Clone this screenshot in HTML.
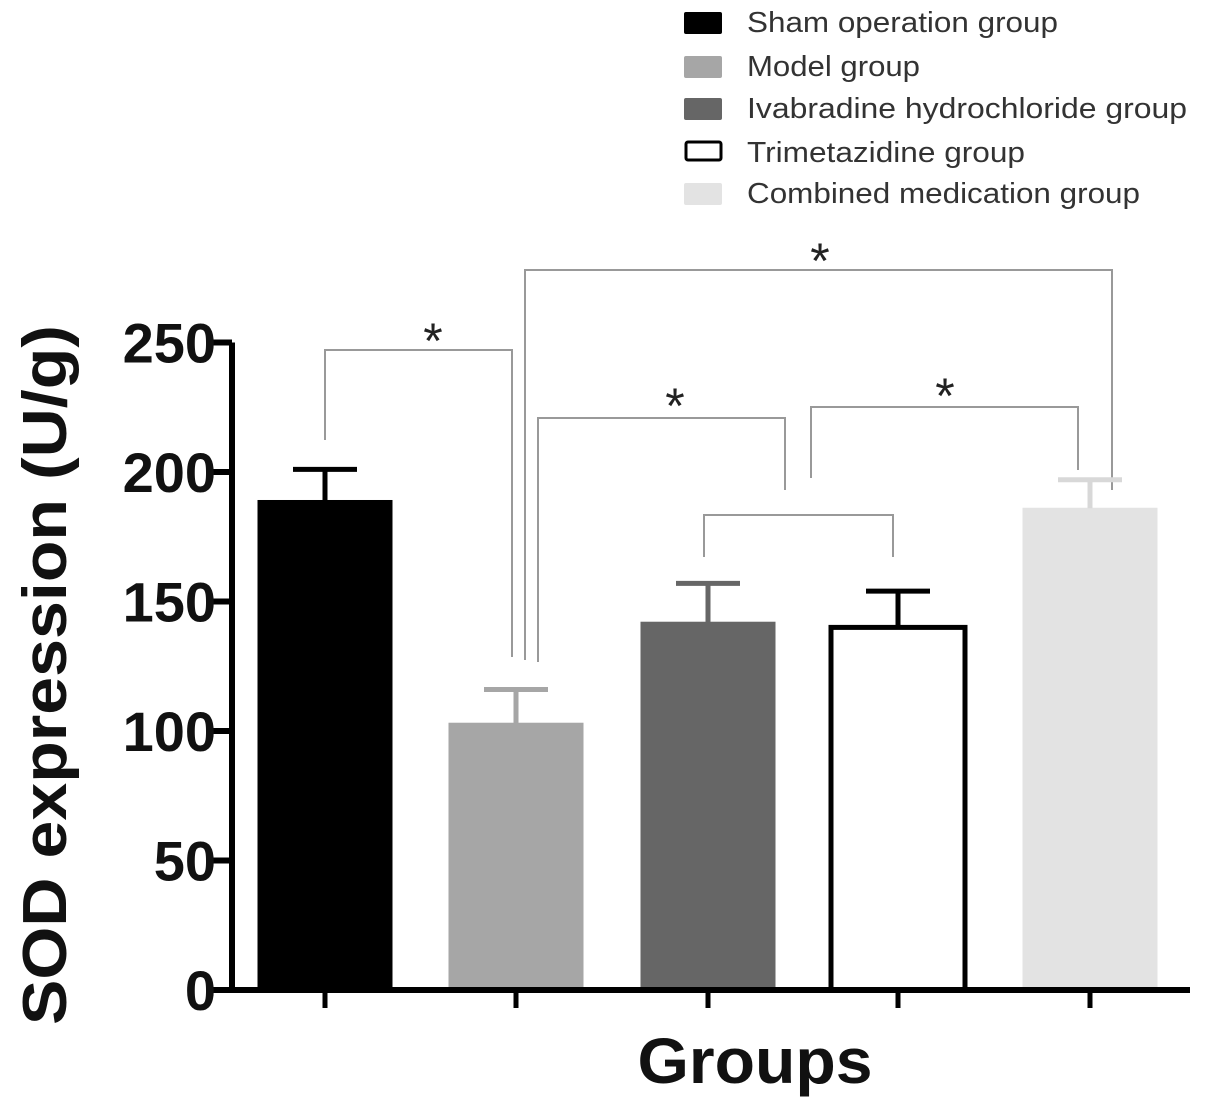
<!DOCTYPE html>
<html><head><meta charset="utf-8"><style>
body{margin:0;background:#fff}
svg text{font-family:"Liberation Sans",Arial,sans-serif}
</style></head><body>
<svg id="chart" width="1205" height="1110" xmlns="http://www.w3.org/2000/svg">
<g id="legend"></g>
<g id="brackets"></g>
<g id="bars"></g>
<g id="axes"></g>
<text transform="translate(66,675) rotate(-90)" text-anchor="middle" font-size="62" font-weight="bold" fill="#111" textLength="700" lengthAdjust="spacingAndGlyphs">SOD expression (U/g)</text>
<text x="755" y="1083" text-anchor="middle" font-size="64" font-weight="bold" fill="#111" textLength="235" lengthAdjust="spacingAndGlyphs">Groups</text>
</svg>
<script>
const categories=["Sham operation group","Model group","Ivabradine hydrochloride group","Trimetazidine group","Combined medication group"];
const means=[189,103,142,140,186];
const errors=[12,13,15,14,11];
const yTicks=[0,50,100,150,200,250];
const fills=["#000","#a6a6a6","#666","#fff","#e3e3e3"];
const legendWidths=[311,173,440,278,393];
const NS="http://www.w3.org/2000/svg";
const y0=990,ppu=2.59;
function y(v){return y0-v*ppu;}
const xc=[325,516,708,898,1090];
function x(i){return xc[i];}
function mk(p,t,a){const e=document.createElementNS(NS,t);for(const k in a)e.setAttribute(k,a[k]);p.appendChild(e);return e;}
const bars=document.getElementById('bars');
categories.forEach((c,i)=>{
 const w=134,cx=x(i);
 const r=mk(bars,'rect',{x:cx-w/2,y:y(means[i]),width:w,height:y0-y(means[i]),fill:fills[i],stroke:i==3?'#000':fills[i],'stroke-width':i==3?5:1});
 
 
 const ec=i==0||i==3?'#000':(i==1?'#a6a6a6':(i==2?'#666':'#d8d8d8'));
 const g=mk(bars,'path',{d:`M${cx},${y(means[i])} V${y(means[i]+errors[i])} M${cx-32},${y(means[i]+errors[i])} H${cx+32}`,stroke:ec,'stroke-width':5,fill:'none'});
 
 
});
const ax=document.getElementById('axes');
mk(ax,'path',{d:`M232,${y(250)} V${y0} H1190`,stroke:'#000','stroke-width':6,fill:'none'});
yTicks.forEach(t=>{
 mk(ax,'line',{x1:212,x2:232,y1:y(t),y2:y(t),stroke:'#000','stroke-width':6});
 const tx=mk(ax,'text',{x:216,y:y(t)+20,'text-anchor':'end','font-size':56,'font-weight':'bold',fill:'#111'});
 tx.textContent=t;
 
 
});
categories.forEach((c,i)=>{mk(ax,'line',{x1:x(i),x2:x(i),y1:y0,y2:y0+18,stroke:'#000','stroke-width':5});});
const br=document.getElementById('brackets');
const bs=[[325,440,350,512,657],[525,660,270,1112,490],[538,662,418,785,490],[811,478,407,1078,470],[704,557,515,893,557]];
bs.forEach(b=>{mk(br,'path',{d:`M${b[0]},${b[1]} V${b[2]} H${b[3]} V${b[4]}`,stroke:'#999','stroke-width':2,fill:'none'});});
[[433,358],[820,278],[675,423],[945,413]].forEach(a=>{const t=mk(br,'text',{x:a[0],y:a[1],'text-anchor':'middle','font-size':50,fill:'#222'});t.textContent='*';});
const lg=document.getElementById('legend');
const ly=[22,66,108,152,193];
categories.forEach((c,i)=>{
 mk(lg,'rect',{x:i==3?686:684,y:ly[i]-10,width:i==3?35:38,height:i==3?18:22,rx:2,fill:fills[i],stroke:i==3?'#000':'none','stroke-width':3});
 const t=mk(lg,'text',{x:747,y:ly[i]+10,'font-size':29,fill:'#333',textLength:legendWidths[i],lengthAdjust:'spacingAndGlyphs'});
 t.textContent=c;
 
 
});
</script>
</body></html>
